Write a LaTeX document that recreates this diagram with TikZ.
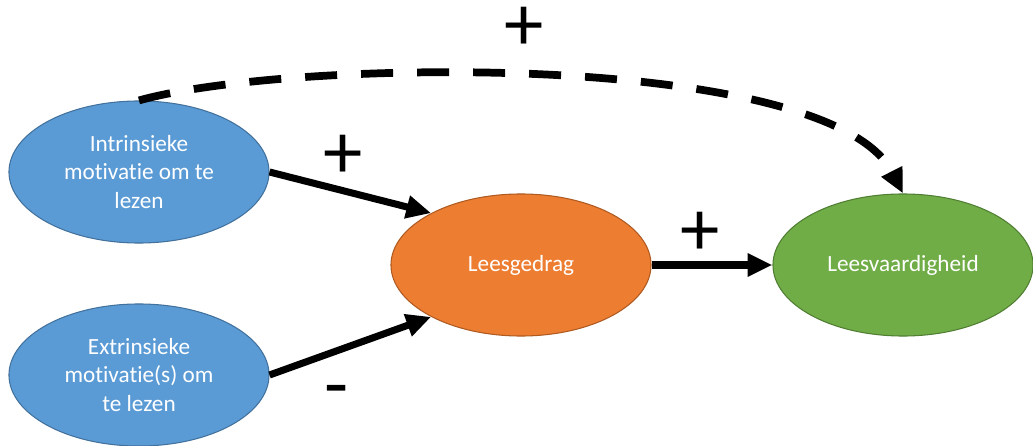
\documentclass[tikz,border=0pt]{standalone}
\usepackage{fontspec}
\setmainfont{Carlito}[Ligatures=NoCommon]
\usetikzlibrary{shapes.geometric,arrows.meta}

\definecolor{motblue}{HTML}{5B9BD5}
\definecolor{motblueline}{HTML}{41719C}
\definecolor{gedragorange}{HTML}{ED7D31}
\definecolor{gedragline}{HTML}{AE5A21}
\definecolor{vaardgreen}{HTML}{70AD47}
\definecolor{vaardline}{HTML}{507E32}

\begin{document}
\begin{tikzpicture}[
        x=0.025cm, y=-0.025cm,
        oval/.style={ellipse, draw, line width=0.75pt, inner sep=0pt, minimum width=6.5cm, minimum height=3.55cm,
            text=white, align=center, font=\fontsize{16.5}{20.5}\selectfont},
        arr/.style={line width=5pt, -{Triangle[length=0.62cm, width=0.55cm]}},
        sign/.style={font=\fontsize{56}{60}\selectfont, inner sep=0pt}
    ]
        \useasboundingbox (0,0) rectangle (1033,446);

        % Model: motivatie -> leesgedrag -> leesvaardigheid
        \node[oval, fill=motblue, draw=motblueline] (intr) at (139,172) {Intrinsieke\\motivatie om te\\lezen};
        \node[oval, fill=motblue, draw=motblueline] (extr) at (139,375) {Extrinsieke\\motivatie(s) om\\te lezen};
        \node[oval, fill=gedragorange, draw=gedragline] (gedrag) at (521,265) {Leesgedrag};
        \node[oval, fill=vaardgreen, draw=vaardline] (vaard) at (903,265) {Leesvaardigheid};

        % Paths with their signs
        \draw[arr] (intr.east) -- (gedrag.150);
        \draw[arr] (extr.east) -- (gedrag.210);
        \draw[arr] (gedrag.east) -- (vaard.west);
        \draw[arr, line width=5.5pt, dash pattern=on 0.8cm off 0.6cm]
            (intr.north) .. controls (290,58) and (830,50) .. (vaard.north);

        \node[sign] (plusdirect) at (524,29) {+};
        \node[sign] (plusintr) at (343,157) {+};
        \node[sign] (plusgedrag) at (700,234) {+};
        \node[sign] (minextr) at (337,398) {-};
    \end{tikzpicture}
\end{document}
